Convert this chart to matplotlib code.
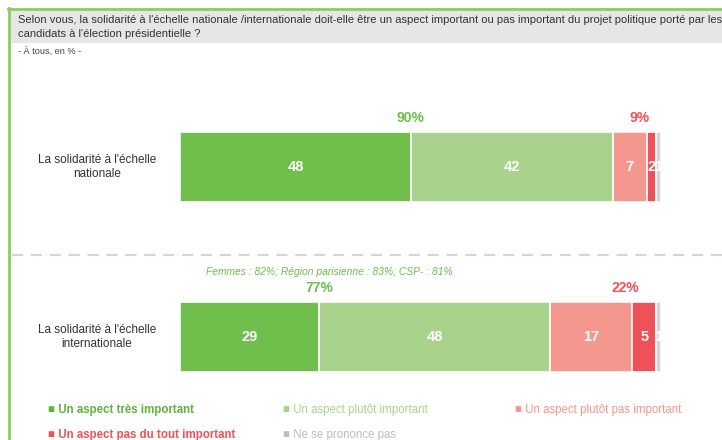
#!/usr/bin/env python

import numpy as np
import matplotlib
matplotlib.use('Agg')
import matplotlib.pyplot as plt
from matplotlib.patches import Rectangle
from matplotlib.lines import Line2D

plt.rcParams['font.family'] = ['Liberation Sans', 'DejaVu Sans']

# data
categories = ["La solidarité à l'échelle\nnationale",
              "La solidarité à l'échelle\ninternationale"]
series = ['Un aspect très important', 'Un aspect plutôt important',
          'Un aspect plutôt pas important', 'Un aspect pas du tout important',
          'Ne se prononce pas']
values = np.array([[48, 42, 7, 2, 1],
                   [29, 48, 17, 5, 1]])
tot_important = [90, 77]
tot_pas_important = [9, 22]
note = 'Femmes : 82%; Région parisienne : 83%; CSP- : 81%'
question = ("Selon vous, la solidarité à l'échelle nationale /internationale doit-elle être un aspect important ou pas important du projet politique porté par les\n"
            "candidats à l'élection présidentielle ?")
subtitle = '- À tous, en % -'

colors = ['#70BE4B', '#A9D38D', '#F4978E', '#EE5157', '#D3D3D3']
text_colors = ['#5DB33C', '#A9D38D', '#F4978E', '#EE5157', '#BDBDBD']
green_txt = '#6CBE4C'
red_txt = '#EE5157'

W, H = 722, 440
fig = plt.figure(figsize=(W / 100, H / 100), dpi=100)

# background layer in pixel coords
bg = fig.add_axes([0, 0, 1, 1])
bg.set_xlim(0, W)
bg.set_ylim(H, 0)
bg.axis('off')
bg.add_patch(Rectangle((11, 11), W - 11, 32, facecolor='#E6E6E6', edgecolor='none'))
bg.add_line(Line2D([9, 9], [8, H], color='#8DCB5A', lw=2))
bg.add_line(Line2D([8, W], [9, 9], color='#8DCB5A', lw=2))
bg.add_line(Line2D([12, W], [255, 255], color='#D5D5D5', lw=1.6, ls=(0, (5, 3.5))))
bg.text(18, 27, question, fontsize=8.0, color='#333333', va='center', ha='left',
        linespacing=1.45)
bg.text(18, 51, subtitle, fontsize=6.6, color='#444444', va='center', ha='left')
bg.text(329, 272, note, fontsize=7.4, color=green_txt, style='italic',
        va='center', ha='center')

# legend
leg_pos = [(48, 410), (283, 410), (515, 410), (48, 435), (283, 435)]
for i, (lx, ly) in enumerate(leg_pos):
    bg.text(lx, ly, '■ ' + series[i], fontsize=8.3, color=text_colors[i],
            fontweight='bold' if i in (0, 3) else 'normal',
            va='center', ha='left')

# bars
ax = fig.add_axes([180 / W, 1 - 422 / H, 481 / W, 340 / H])
ax.set_xlim(0, 100)
ax.set_ylim(1.5, -0.5)
ax.axis('off')

ypos = np.arange(len(categories))
left = np.zeros(len(categories))
for j in range(values.shape[1]):
    ax.barh(ypos, values[:, j], left=left, height=0.41, color=colors[j],
            edgecolor='white', linewidth=1.2)
    for i in range(len(categories)):
        v = values[i, j]
        ax.text(left[i] + v / 2, ypos[i], str(v), color='white',
                fontsize=10.5, fontweight='bold', ha='center', va='center')
    left += values[:, j]

for i in range(len(categories)):
    ax.text(values[i, 0], ypos[i] - 0.29, '%d%%' % tot_important[i],
            color=green_txt, fontsize=10, fontweight='bold', ha='center', va='center')
    ax.text(values[i, 0] + values[i, 1] + values[i, 2] - 1.5, ypos[i] - 0.29,
            '%d%%' % tot_pas_important[i],
            color=red_txt, fontsize=10, fontweight='bold', ha='center', va='center')
    ax.text(-17.3, ypos[i], categories[i], color='#333333', fontsize=8.5,
            ha='center', va='center', linespacing=1.3)

plt.savefig('out.png', dpi=100)
